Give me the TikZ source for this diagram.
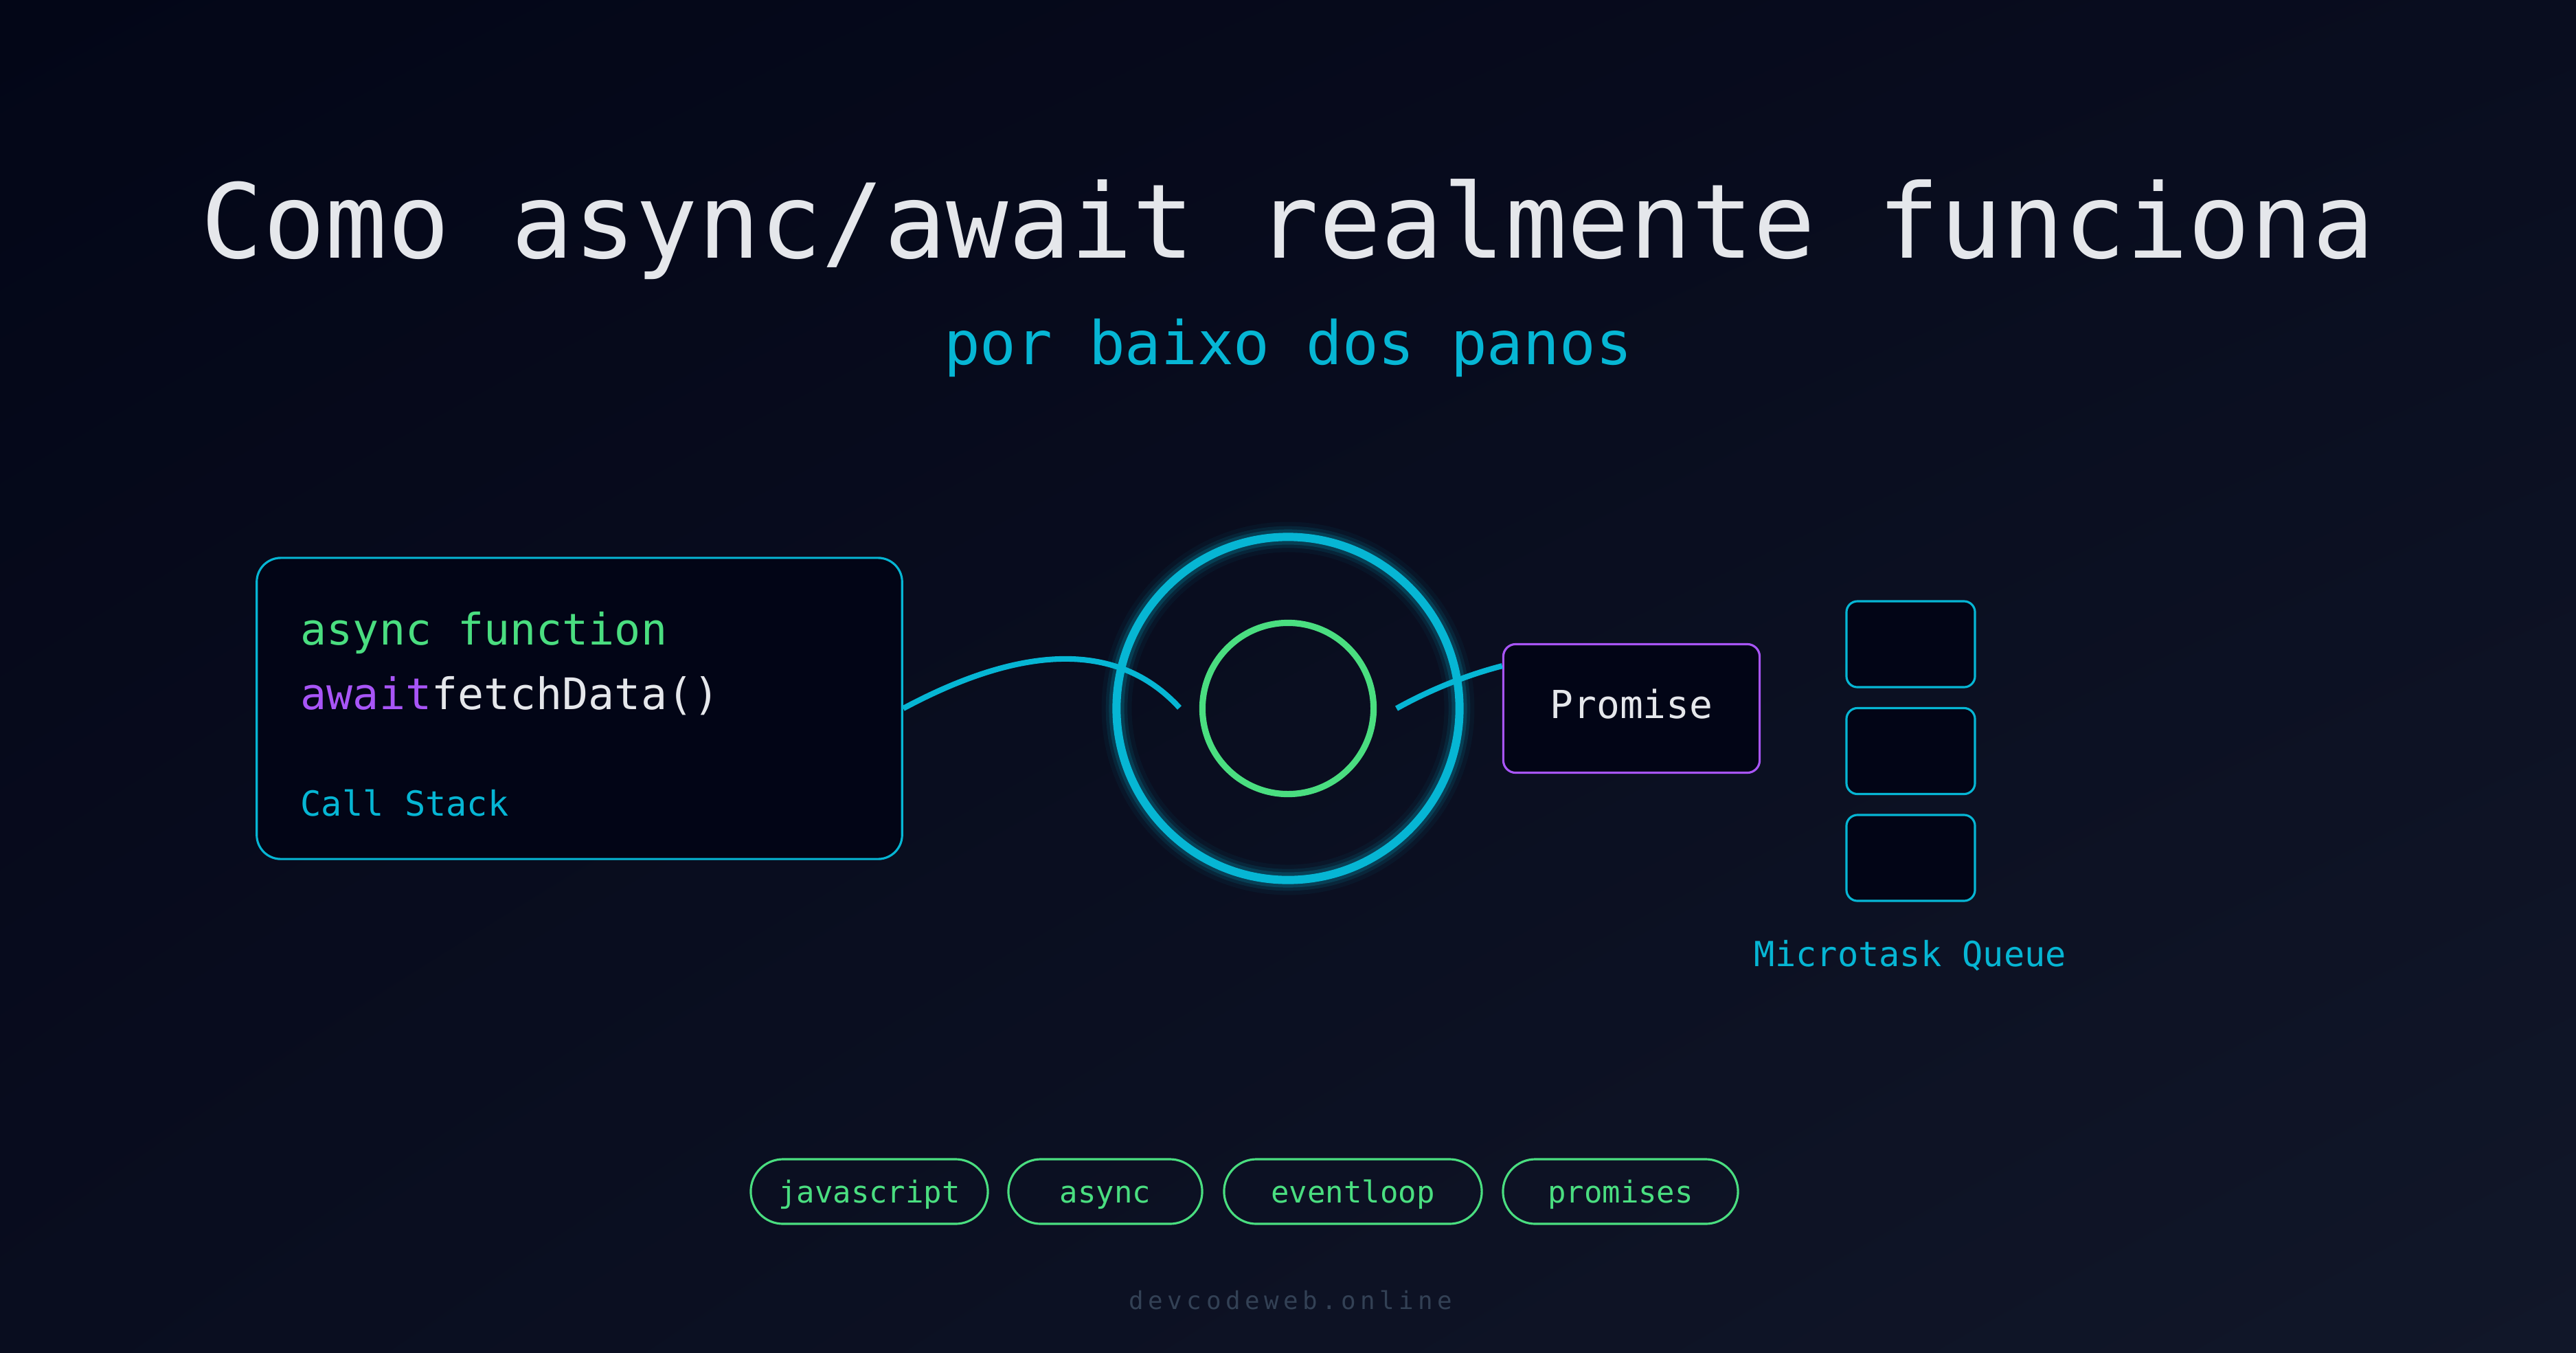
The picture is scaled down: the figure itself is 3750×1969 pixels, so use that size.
\documentclass[tikz,border=0pt]{standalone}
\usepackage{fontspec}
\usetikzlibrary{shadings}
\setmainfont{DejaVu Sans Mono}
\newfontfamily\footfont[LetterSpace=18]{DejaVu Sans Mono}
\newcommand{\txtsize}[1]{\fontsize{#1}{#1}\selectfont}
\definecolor{bgtop}{RGB}{3,6,23}
\definecolor{bgmid}{RGB}{9,13,31}
\definecolor{bgbot}{RGB}{17,23,41}
\definecolor{boxfill}{RGB}{2,5,22}
\definecolor{cyanline}{RGB}{6,182,212}
\definecolor{greenline}{RGB}{74,222,128}
\definecolor{purpleline}{RGB}{168,85,247}
\definecolor{lighttext}{RGB}{229,231,235}
\definecolor{dimtext}{RGB}{51,65,85}

\begin{document}
\begin{tikzpicture}[x=0.01cm, y=-0.01cm,
  label text/.style={inner sep=0pt, anchor=base},
  panel/.style={draw=cyanline, line width=0.9pt, fill=boxfill, rounded corners=0.35cm,
    minimum width=9.39cm, minimum height=4.38cm},
  wire/.style={draw=cyanline, line width=2.3pt},
  ring/.style={circle, draw=cyanline, line width=3.4pt, inner sep=0pt, minimum size=4.99cm},
  core/.style={circle, draw=greenline, line width=2.6pt, inner sep=0pt, minimum size=2.49cm},
  promisebox/.style={draw=purpleline, line width=0.9pt, fill=boxfill, rounded corners=0.18cm,
    minimum width=3.73cm, minimum height=1.87cm, inner sep=0pt, text=lighttext,
    font=\txtsize{16pt}, text height=8.5pt, text depth=0pt},
  slot/.style={draw=cyanline, line width=0.9pt, fill=boxfill, rounded corners=0.16cm,
    minimum width=1.87cm, minimum height=1.25cm},
  tag/.style={draw=greenline, line width=0.9pt, rounded corners=0.47cm, minimum height=0.94cm,
    inner sep=0pt, text=greenline, font=\txtsize{12.5pt}, text height=9.1pt, text depth=0pt}]

  \useasboundingbox (0,0) rectangle (3750,1969);
  \shade[upper left=bgtop, upper right=bgmid, lower left=bgmid, lower right=bgbot]
    (0,0) rectangle (3750,1969);

  % heading
  \node[label text, text=lighttext, font=\txtsize{42.7pt}] (title) at (1875,375)
    {Como async/await realmente funciona};
  \node[label text, text=cyanline, font=\txtsize{24.9pt}] (subtitle) at (1875,530)
    {por baixo dos panos};

  % call stack
  \node[panel] (stack) at (843.5,1031) {};
  \node[label text, anchor=base west, text=greenline, font=\txtsize{18pt}] (code1) at (437,938)
    {async function};
  \node[label text, anchor=base west, font=\txtsize{18pt}] (code2) at (437,1032)
    {\textcolor{purpleline}{await}\textcolor{lighttext}{fetchData()}};
  \node[label text, anchor=base west, text=cyanline, font=\txtsize{14.3pt}] (stacklabel) at (437,1187)
    {Call Stack};

  % event loop
  \coordinate (hub) at (1875,1031);
  \foreach \w/\o in {12.5pt/0.05, 9pt/0.1, 6.3pt/0.18}
    \draw[cyanline, line width=\w, opacity=\o] (hub) circle[radius=249.5];
  \node[ring] (loop) at (hub) {};
  \node[core] (task) at (hub) {};

  \node[promisebox] (promise) at (2375,1031) {Promise};

  \coordinate (leftIn) at (1717,1030);
  \coordinate (rightOut) at (2033,1031);
  \draw[wire] (stack.east) .. controls (1494,935) and (1630,935) .. (leftIn);
  \draw[wire] (rightOut) .. controls (2085,1002) and (2140,981) .. ([yshift=17.6pt]promise.west);

  % microtask queue
  \foreach \i/\y in {1/937.5, 2/1093, 3/1248.5}
    \node[slot] (q\i) at (2781.5,\y) {};
  \node[label text, text=cyanline, font=\txtsize{14.3pt}] (qlabel) at (2781,1406) {Microtask Queue};

  % tags
  \foreach \name/\x/\w in {javascript/1265.5/3.45cm, async/1609/2.82cm,
      eventloop/1969.5/3.75cm, promises/2359/3.42cm}
    \node[tag, minimum width=\w] (tag-\name) at (\x,1734) {\name};

  \node[label text, text=dimtext, font=\footfont\txtsize{10.2pt}] (site) at (1879,1905)
    {devcodeweb.online};
\end{tikzpicture}
\end{document}
